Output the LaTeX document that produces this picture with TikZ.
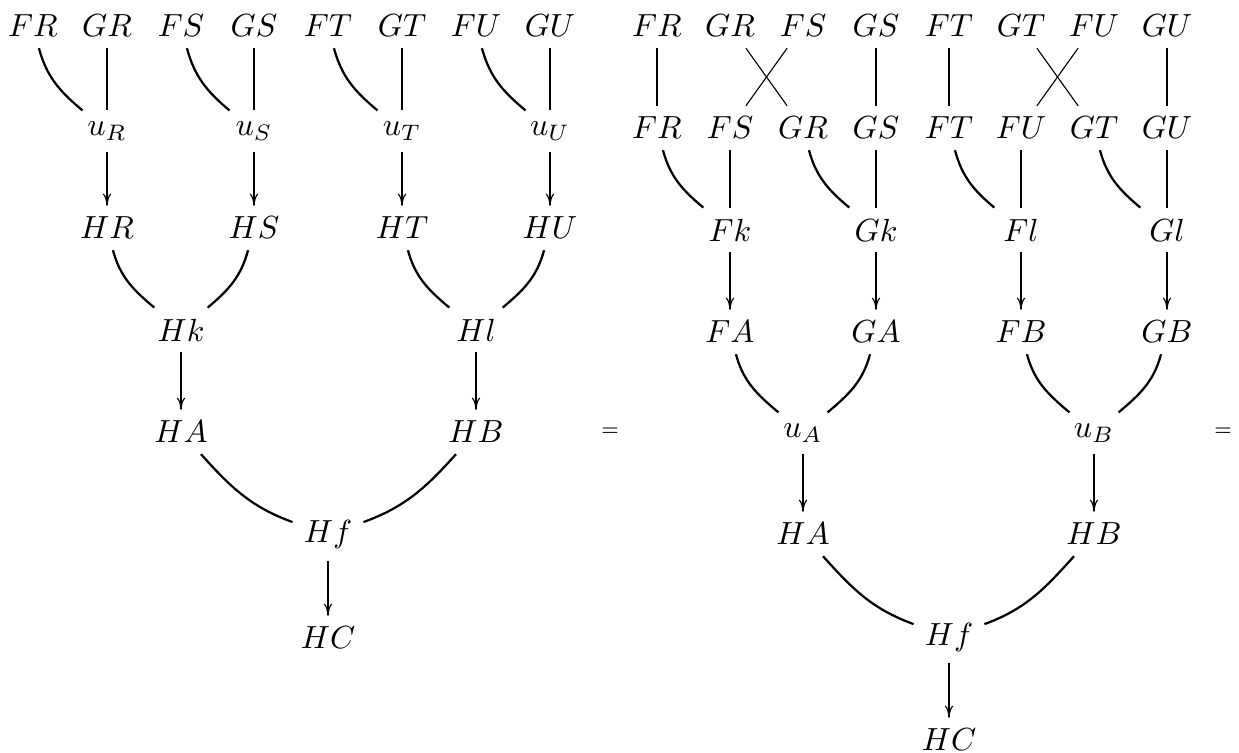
\documentclass[tikz,border=0pt]{standalone}
\usetikzlibrary{arrows.meta}
\begin{document}
\begin{tikzpicture}[x=0.3125pt,y=-0.3125pt,
  every node/.style={inner sep=3.33pt},
  wire/.style={line width=0.7pt},
  thinwire/.style={line width=0.35pt},
  arr/.style={line width=0.7pt,-{To[length=3.8pt,width=2.6pt,line width=0.35pt]}},
  lcurve/.style={wire, out=-75, in=140},
  rcurve/.style={wire, out=-105, in=40},
  lbig/.style={wire, out=-48, in=160},
  rbig/.style={wire, out=-132, in=20},
  eqsign/.style={font=\fontsize{6}{7}\selectfont}
]
\useasboundingbox (0,0) rectangle (1239,753);

% ---------- left diagram ----------
\node (lFR) at (33,26) {$FR$};
\node (lGR) at (107,26) {$GR$};
\node (lFS) at (181,26) {$FS$};
\node (lGS) at (254,26) {$GS$};
\node (lFT) at (328,26) {$FT$};
\node (lGT) at (402,26) {$GT$};
\node (lFU) at (476,26) {$FU$};
\node (lGU) at (550,26) {$GU$};

\node (luR) at (107,131) {$u_R$};
\node (luS) at (254,131) {$u_S$};
\node (luT) at (402,131) {$u_T$};
\node (luU) at (550,131) {$u_U$};

\node (lHR) at (107,228) {$HR$};
\node (lHS) at (254,228) {$HS$};
\node (lHT) at (402,228) {$HT$};
\node (lHU) at (550,228) {$HU$};

\node (lHk) at (181,330) {$Hk$};
\node (lHl) at (476,330) {$Hl$};

\node (lHA) at (181,432) {$HA$};
\node (lHB) at (476,432) {$HB$};

\node (lHf) at (328,535) {$Hf$};
\node (lHC) at (328,638) {$HC$};

\draw[lcurve] (lFR) to (luR);
\draw[wire] (lGR) -- (luR);
\draw[lcurve] (lFS) to (luS);
\draw[wire] (lGS) -- (luS);
\draw[lcurve] (lFT) to (luT);
\draw[wire] (lGT) -- (luT);
\draw[lcurve] (lFU) to (luU);
\draw[wire] (lGU) -- (luU);

\draw[arr] (luR) -- (lHR);
\draw[arr] (luS) -- (lHS);
\draw[arr] (luT) -- (lHT);
\draw[arr] (luU) -- (lHU);

\draw[lcurve] (lHR) to (lHk);
\draw[rcurve] (lHS) to (lHk);
\draw[lcurve] (lHT) to (lHl);
\draw[rcurve] (lHU) to (lHl);

\draw[arr] (lHk) -- (lHA);
\draw[arr] (lHl) -- (lHB);

\draw[lbig] (lHA) to (lHf);
\draw[rbig] (lHB) to (lHf);

\draw[arr] (lHf) -- (lHC);

\node[eqsign] (eq1) at (610,432) {$=$};

% ---------- right diagram ----------
\node (rFR0) at (657,26) {$FR$};
\node (rGR0) at (730,26) {$GR$};
\node (rFS0) at (803,26) {$FS$};
\node (rGS0) at (876,26) {$GS$};
\node (rFT0) at (949,26) {$FT$};
\node (rGT0) at (1021,26) {$GT$};
\node (rFU0) at (1094,26) {$FU$};
\node (rGU0) at (1167,26) {$GU$};

\node (rFR1) at (657,128) {$FR$};
\node (rFS1) at (730,128) {$FS$};
\node (rGR1) at (803,128) {$GR$};
\node (rGS1) at (876,128) {$GS$};
\node (rFT1) at (949,128) {$FT$};
\node (rFU1) at (1021,128) {$FU$};
\node (rGT1) at (1094,128) {$GT$};
\node (rGU1) at (1167,128) {$GU$};

\node (rFk) at (730,230) {$Fk$};
\node (rGk) at (876,230) {$Gk$};
\node (rFl) at (1021,230) {$Fl$};
\node (rGl) at (1167,230) {$Gl$};

\node (rFA) at (730,332) {$FA$};
\node (rGA) at (876,332) {$GA$};
\node (rFB) at (1021,332) {$FB$};
\node (rGB) at (1167,332) {$GB$};

\node (ruA) at (803,433) {$u_A$};
\node (ruB) at (1094,433) {$u_B$};

\node (rHA) at (803,534) {$HA$};
\node (rHB) at (1094,534) {$HB$};

\node (rHf) at (949,637) {$Hf$};
\node (rHC) at (949,740) {$HC$};

\draw[wire] (rFR0) -- (rFR1);
\draw[thinwire] (rGR0) -- (rGR1);
\draw[thinwire] (rFS0) -- (rFS1);
\draw[wire] (rGS0) -- (rGS1);
\draw[wire] (rFT0) -- (rFT1);
\draw[thinwire] (rGT0) -- (rGT1);
\draw[thinwire] (rFU0) -- (rFU1);
\draw[wire] (rGU0) -- (rGU1);

\draw[lcurve] (rFR1) to (rFk);
\draw[wire] (rFS1) -- (rFk);
\draw[lcurve] (rGR1) to (rGk);
\draw[wire] (rGS1) -- (rGk);
\draw[lcurve] (rFT1) to (rFl);
\draw[wire] (rFU1) -- (rFl);
\draw[lcurve] (rGT1) to (rGl);
\draw[wire] (rGU1) -- (rGl);

\draw[arr] (rFk) -- (rFA);
\draw[arr] (rGk) -- (rGA);
\draw[arr] (rFl) -- (rFB);
\draw[arr] (rGl) -- (rGB);

\draw[lcurve] (rFA) to (ruA);
\draw[rcurve] (rGA) to (ruA);
\draw[lcurve] (rFB) to (ruB);
\draw[rcurve] (rGB) to (ruB);

\draw[arr] (ruA) -- (rHA);
\draw[arr] (ruB) -- (rHB);

\draw[lbig] (rHA) to (rHf);
\draw[rbig] (rHB) to (rHf);

\draw[arr] (rHf) -- (rHC);

\node[eqsign] (eq2) at (1223,432) {$=$};
\end{tikzpicture}
\end{document}
